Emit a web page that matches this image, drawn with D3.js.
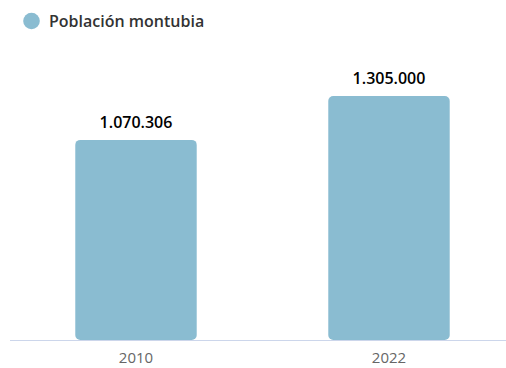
<!DOCTYPE html>
<html><head><meta charset="utf-8">
<script src="https://cdn.jsdelivr.net/npm/d3@7"></script>
<style>
html,body{margin:0;padding:0;background:#fff;}
svg{display:block;font-family:"Open Sans",sans-serif;}
</style></head>
<body>
<svg id="chart" width="506" height="368"></svg>
<script>
const categories = ["2010", "2022"];
const values = [1070306, 1305000];
const seriesName = "Población montubia";
const labels = ["1.070.306", "1.305.000"];

const svg = d3.select("#chart");
const color = "#8abcd1";
const baseY = 340;

const x = d3.scaleBand().domain(categories).range([9.5, 515.5]).paddingInner(0.52).paddingOuter(0.26);
const y = d3.scaleLinear().domain([0, 1305000]).range([baseY, 96]);

// axis line
svg.append("line").attr("x1", 10).attr("x2", 506).attr("y1", baseY + 0.5).attr("y2", baseY + 0.5)
  .attr("stroke", "#ccd6eb").attr("stroke-width", 1);

// bars
svg.selectAll("rect.bar").data(values).join("rect").attr("class", "bar")
  .attr("x", (d, i) => x(categories[i]))
  .attr("width", x.bandwidth())
  .attr("y", d => y(d))
  .attr("height", d => baseY - y(d))
  .attr("rx", 5).attr("ry", 5)
  .attr("fill", color);

// data labels
svg.selectAll("text.dl").data(values).join("text").attr("class", "dl")
  .attr("x", (d, i) => x(categories[i]) + x.bandwidth() / 2)
  .attr("y", d => y(d) - 12)
  .attr("text-anchor", "middle")
  .attr("font-size", 16).attr("font-weight", 600).attr("fill", "#000")
  .text((d, i) => labels[i]);

// x axis labels
const xAxis = d3.axisBottom(x).tickSize(0).tickPadding(12.5);
const gx = svg.append("g").attr("transform", `translate(0,${baseY})`).call(xAxis);
gx.select(".domain").remove();
gx.selectAll("text").attr("font-size", 15).attr("fill", "#666").attr("font-family", "Open Sans, sans-serif");

// legend
const lg = svg.append("g");
lg.append("circle").attr("cx", 31.5).attr("cy", 21).attr("r", 8.3).attr("fill", color);
lg.append("text").attr("x", 49).attr("y", 26.5).attr("font-size", 16).attr("font-weight", 600)
  .attr("fill", "#333").text(seriesName);
</script>
</body></html>
